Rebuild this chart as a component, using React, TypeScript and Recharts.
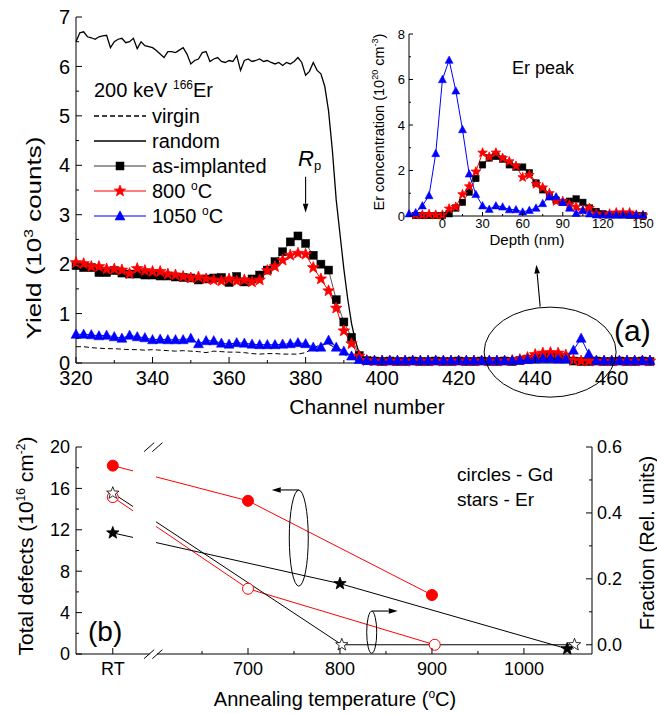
import React from 'react';
import {
  LineChart,
  Line,
  XAxis,
  YAxis,
  ReferenceLine,
  ReferenceDot,
  ReferenceArea,
} from 'recharts';

const FONT = '"Liberation Sans", Arial, Helvetica, sans-serif';

// ---------- panel (a): RBS/C spectra ----------
// random spectrum, one value per channel from 320 to 398
const randomYield = [
  6.5, 6.68, 6.7, 6.6, 6.58, 6.55, 6.6, 6.62, 6.63, 6.38,
  6.5, 6.55, 6.57, 6.48, 6.5, 6.57, 6.36, 6.5, 6.42, 6.4,
  6.38, 6.32, 6.25, 6.18, 6.3, 6.3, 6.28, 6.33, 6.38, 6.25,
  6.05, 6.12, 6.15, 6.28, 6.3, 6.1, 6.15, 6.18, 6.1, 6.08,
  6.12, 6.1, 6.22, 5.92, 6.12, 6.15, 6.1, 6.12, 6.15, 6.1,
  6.12, 6.08, 6.05, 6.08, 6.02, 6.08, 6.05, 6.1, 6.18, 6.08,
  5.82, 5.9, 6.08, 5.92, 5.85, 5.6, 5.1, 4.3, 3.3, 2.6,
  1.9, 1.3, 0.8, 0.45, 0.2, 0.08, 0.05, 0.03, 0.03,
];
const randomTailCh = [410, 430, 450, 470];
const randomTail = [0.03, 0.03, 0.03, 0.03];

// virgin (aligned) spectrum, every second channel from 320 to 396
const virginYield = [
  0.33, 0.33, 0.31, 0.3, 0.29, 0.29, 0.28, 0.27, 0.27, 0.26,
  0.27, 0.26, 0.25, 0.24, 0.25, 0.24, 0.23, 0.21, 0.24, 0.23,
  0.22, 0.22, 0.21, 0.19, 0.18, 0.19, 0.19, 0.18, 0.18, 0.18,
  0.21, 0.3, 0.38, 0.38, 0.3, 0.18, 0.08, 0.04, 0.03,
];
const virginTailCh = [410, 430, 450, 470];
const virginTail = [0.03, 0.03, 0.03, 0.03];

// aligned spectra with markers, every second channel from 320 to 470
const asImplantedYield = [
  1.97, 1.93, 1.93, 1.83, 1.83, 1.87, 1.82, 1.8, 1.8, 1.78,
  1.78, 1.76, 1.76, 1.74, 1.73, 1.72, 1.68, 1.7, 1.72, 1.73,
  1.63, 1.75, 1.64, 1.7, 1.78, 1.88, 2.05, 2.25, 2.45, 2.57,
  2.42, 2.18, 2.0, 1.88, 1.28, 0.83, 0.52, 0.15, 0.05, 0.04,
  0.03, 0.04, 0.03, 0.03, 0.04, 0.03, 0.03, 0.04, 0.03, 0.03,
  0.04, 0.03, 0.03, 0.04, 0.03, 0.03, 0.04, 0.03, 0.05, 0.08,
  0.11, 0.13, 0.13, 0.12, 0.09, 0.04, 0.03, 0.03, 0.04, 0.03,
  0.03, 0.04, 0.03, 0.03, 0.04, 0.03,
];
const anneal800Yield = [
  2.03, 2.01, 1.95, 1.95, 1.9, 1.9, 1.88, 1.81, 1.91, 1.87,
  1.85, 1.85, 1.8, 1.78, 1.75, 1.72, 1.74, 1.7, 1.68, 1.66,
  1.7, 1.66, 1.68, 1.64, 1.68, 1.87, 1.95, 2.08, 2.18, 2.22,
  2.2, 1.93, 1.7, 1.46, 1.11, 0.65, 0.39, 0.14, 0.05, 0.04,
  0.04, 0.04, 0.04, 0.04, 0.04, 0.04, 0.04, 0.04, 0.04, 0.04,
  0.04, 0.04, 0.04, 0.04, 0.04, 0.04, 0.04, 0.05, 0.07, 0.11,
  0.17, 0.2, 0.21, 0.2, 0.16, 0.06, 0.04, 0.04, 0.04, 0.04,
  0.04, 0.04, 0.04, 0.04, 0.04, 0.04,
];
const anneal1050Yield = [
  0.58, 0.58, 0.57, 0.55, 0.56, 0.53, 0.5, 0.56, 0.53, 0.51,
  0.47, 0.48, 0.47, 0.47, 0.47, 0.5, 0.39, 0.45, 0.45, 0.4,
  0.38, 0.41, 0.4, 0.38, 0.37, 0.37, 0.37, 0.38, 0.39, 0.41,
  0.39, 0.32, 0.32, 0.46, 0.32, 0.24, 0.14, 0.07, 0.05, 0.05,
  0.05, 0.05, 0.05, 0.05, 0.05, 0.05, 0.05, 0.05, 0.05, 0.05,
  0.05, 0.05, 0.05, 0.05, 0.05, 0.05, 0.05, 0.05, 0.06, 0.07,
  0.08, 0.09, 0.09, 0.08, 0.08, 0.26, 0.5, 0.18, 0.05, 0.05,
  0.05, 0.05, 0.05, 0.05, 0.05, 0.05,
];

// ---------- inset: Er depth profiles ----------
const erConc1050 = [
  0.1, 0.15, 0.45, 0.9, 2.75, 6.0, 6.85, 5.5, 3.8, 1.85,
  0.95, 0.45, 0.3, 0.45, 0.4, 0.28, 0.28, 0.18, 0.25, 0.35,
  0.55, 0.85, 0.85, 0.6, 0.35, 0.12, 0.25, 0.1, 0.05, 0.05,
  0.05, 0.05, 0.05, 0.05, 0.05, 0.05,
]; // depth -25 .. 150 nm
const erConcAsImpl = [
  0.02, 0.02, 0.02, 0.02, 0.02, 0.1, 0.35, 0.6, 1.05, 1.65,
  2.25, 2.55, 2.62, 2.5, 2.25, 2.15, 2.15, 1.9, 1.45, 1.15,
  0.85, 0.7, 0.6, 0.65, 0.75, 0.6, 0.35, 0.2, 0.1, 0.05,
  0.05, 0.05, 0.03, 0.02, 0.02,
]; // depth -20 .. 150 nm
const erConc800 = [
  0.05, 0.05, 0.08, 0.05, 0.05, 0.32, 0.4, 0.95, 1.3, 1.95,
  2.78, 2.6, 2.78, 2.55, 2.4, 2.2, 1.7, 1.8, 1.4, 1.25,
  1.0, 0.65, 0.65, 0.5, 0.4, 0.25, 0.35, 0.1, 0.05, 0.1,
  0.15, 0.15, 0.15, 0.05, 0.02,
]; // depth -20 .. 150 nm

// ---------- panel (b): defects vs annealing temperature ----------
const RT_POS = 553; // where "RT" sits on the broken temperature axis
const gdTotalT = ['RT', 700, 900];
const gdTotal = [18.2, 14.8, 5.7];
const gdFracT = ['RT', 700, 903];
const gdFrac = [0.448, 0.17, 0.0];
const erTotalT = ['RT', 800, 1047];
const erTotal = [11.7, 6.8, 0.5];
const erFracT = ['RT', 802, 1055];
const erFrac = [0.46, 0.0, 0.0];

// ---------- helpers ----------
const seq = (start: number, step: number, n: number) =>
  Array.from({ length: n }, (_, i) => start + i * step);
const pts = (xs: number[], ys: number[]) => xs.map((x, i) => ({ x, y: ys[i] }));
const tPos = (t: string | number) => (t === 'RT' ? RT_POS : (t as number));
const tPts = (ts: (string | number)[], ys: number[]) => ts.map((t, i) => ({ x: tPos(t), y: ys[i] }));

const markerCh = seq(320, 2, 76);
const randomData = pts([...seq(320, 1, randomYield.length), ...randomTailCh], [...randomYield, ...randomTail]);
const virginData = pts([...seq(320, 2, virginYield.length), ...virginTailCh], [...virginYield, ...virginTail]);
const asImplData = pts(markerCh, asImplantedYield);
const a800Data = pts(markerCh, anneal800Yield);
const a1050Data = pts(markerCh, anneal1050Yield);

const inset1050 = pts(seq(-25, 5, erConc1050.length), erConc1050);
const insetAsImpl = pts(seq(-20, 5, erConcAsImpl.length), erConcAsImpl);
const inset800 = pts(seq(-20, 5, erConc800.length), erConc800);

// ---------- markers ----------
type Kind = 'square' | 'star' | 'triangle' | 'circle';

const starPoints = (cx: number, cy: number, r: number) => {
  const p: string[] = [];
  for (let i = 0; i < 10; i++) {
    const a = -Math.PI / 2 + (i * Math.PI) / 5;
    const rr = i % 2 === 0 ? r : r * 0.42;
    p.push(`${cx + rr * Math.cos(a)},${cy + rr * Math.sin(a)}`);
  }
  return p.join(' ');
};

function Marker({ kind, cx, cy, size, fill, stroke }: any) {
  if (cx == null || cy == null) return null;
  const h = size / 2;
  switch (kind as Kind) {
    case 'square':
      return <rect x={cx - h} y={cy - h} width={size} height={size} fill={fill} stroke={stroke} strokeWidth={0.5} />;
    case 'triangle':
      return (
        <polygon
          points={`${cx},${cy - h * 1.05} ${cx + h},${cy + h * 0.8} ${cx - h},${cy + h * 0.8}`}
          fill={fill}
          stroke={stroke}
          strokeWidth={0.5}
        />
      );
    case 'star':
      return <polygon points={starPoints(cx, cy, h)} fill={fill} stroke={stroke} strokeWidth={0.8} />;
    default:
      return <circle cx={cx} cy={cy} r={h} fill={fill} stroke={stroke} strokeWidth={1} />;
  }
}

const dotOf = (kind: Kind, size: number, fill: string, stroke = fill) => (p: any) => (
  <Marker key={`m-${p.index}`} kind={kind} cx={p.cx} cy={p.cy} size={size} fill={fill} stroke={stroke} />
);

// ---------- ticks drawn inward with major/minor lengths ----------
type Side = 'left' | 'right' | 'top' | 'bottom';
interface TickOpts {
  majors: number[];
  major: number;
  minor: number;
  fontSize: number;
  gap: number;
  labels?: boolean;
  fmt?: (v: number) => string;
}

const makeTick = (side: Side, o: TickOpts) => (p: any) => {
  const v = p.payload.value as number;
  const isMajor = o.majors.some((m) => Math.abs(m - v) < 1e-6);
  const len = isMajor ? o.major : o.minor;
  const { x, y } = p;
  const label = isMajor && o.labels !== false ? (o.fmt ? o.fmt(v) : String(v)) : null;
  const cap = o.fontSize * 0.716;
  let line: React.ReactNode = null;
  let text: React.ReactNode = null;
  const tp = { fontSize: o.fontSize, fill: '#000', fontFamily: FONT };
  if (side === 'left') {
    line = <line x1={x} y1={y} x2={x + len} y2={y} />;
    if (label) text = <text {...tp} x={x - o.gap} y={y + cap / 2} textAnchor="end">{label}</text>;
  } else if (side === 'right') {
    line = <line x1={x} y1={y} x2={x - len} y2={y} />;
    if (label) text = <text {...tp} x={x + o.gap} y={y + cap / 2} textAnchor="start">{label}</text>;
  } else if (side === 'bottom') {
    line = <line x1={x} y1={y} x2={x} y2={y - len} />;
    if (label) text = <text {...tp} x={x} y={y + o.gap + cap} textAnchor="middle">{label}</text>;
  } else {
    line = <line x1={x} y1={y} x2={x} y2={y + len} />;
  }
  return (
    <g>
      <g stroke="#000" strokeWidth={1}>{line}</g>
      {text}
    </g>
  );
};

const axisLine = { stroke: '#000', strokeWidth: 1 };

const arrowShape = (p: any) => {
  const { x1, y1, x2, y2 } = p;
  const ang = Math.atan2(y2 - y1, x2 - x1);
  const L = 9;
  const W = 2.8;
  const bx = x2 - L * Math.cos(ang);
  const by = y2 - L * Math.sin(ang);
  const nx = -Math.sin(ang) * W;
  const ny = Math.cos(ang) * W;
  return (
    <g>
      <line x1={x1} y1={y1} x2={bx} y2={by} stroke="#000" strokeWidth={1.1} />
      <polygon points={`${x2},${y2} ${bx + nx},${by + ny} ${bx - nx},${by - ny}`} fill="#000" />
    </g>
  );
};

const ellipseShape = (rx: number, ry: number) => (p: any) => (
  <ellipse cx={p.cx} cy={p.cy} rx={rx} ry={ry} fill="none" stroke="#000" strokeWidth={1} />
);

// ---------- panel (a) ----------
const chMajors = seq(320, 20, 8);
const chTicks = [...chMajors, ...seq(330, 20, 8)].sort((a, b) => a - b);
const yMajors = seq(0, 1, 8);
const yTicks = [...yMajors, ...seq(0.5, 1, 7)].sort((a, b) => a - b);

function SpectraChart() {
  const t = { major: 6, minor: 3, fontSize: 20, gap: 6 };
  return (
    <LineChart width={657} height={420} margin={{ top: 17, right: 7, bottom: 0, left: 0 }}>
      <XAxis
        dataKey="x"
        type="number"
        domain={[320, 470]}
        ticks={chTicks}
        interval={0}
        height={57}
        tickLine={false}
        tickSize={0}
        tickMargin={0}
        axisLine={axisLine}
        tick={makeTick('bottom', { ...t, majors: chMajors, gap: 8 })}
      />
      <XAxis
        xAxisId="top"
        orientation="top"
        dataKey="x"
        type="number"
        domain={[320, 470]}
        ticks={chTicks}
        interval={0}
        height={0}
        tickLine={false}
        tickSize={0}
        tickMargin={0}
        axisLine={axisLine}
        tick={makeTick('top', { ...t, majors: chMajors, labels: false })}
      />
      <YAxis
        type="number"
        domain={[0, 7]}
        ticks={yTicks}
        interval={0}
        width={76}
        tickLine={false}
        tickSize={0}
        tickMargin={0}
        axisLine={axisLine}
        tick={makeTick('left', { ...t, majors: yMajors })}
      />
      <YAxis
        yAxisId="mirror"
        orientation="right"
        type="number"
        domain={[0, 7]}
        ticks={yTicks}
        interval={0}
        width={0}
        tickLine={false}
        tickSize={0}
        tickMargin={0}
        axisLine={axisLine}
        tick={makeTick('right', { ...t, majors: yMajors, labels: false })}
      />
      <Line data={randomData} dataKey="y" stroke="#000" strokeWidth={1.3} dot={false} activeDot={false} isAnimationActive={false} />
      <Line data={virginData} dataKey="y" stroke="#000" strokeWidth={1} strokeDasharray="5 3" dot={false} activeDot={false} isAnimationActive={false} />
      <Line data={asImplData} dataKey="y" stroke="#555" strokeWidth={1} dot={dotOf('square', 8, '#000')} activeDot={false} isAnimationActive={false} />
      <Line data={a800Data} dataKey="y" stroke="#ff0000" strokeWidth={1} dot={dotOf('star', 12, '#ff0000')} activeDot={false} isAnimationActive={false} />
      <Line data={a1050Data} dataKey="y" stroke="#0000ff" strokeWidth={1} dot={dotOf('triangle', 10, '#0000ff')} activeDot={false} isAnimationActive={false} />
      {/* projected range marker */}
      <ReferenceLine segment={[{ x: 380, y: 3.77 }, { x: 380, y: 3.04 }]} ifOverflow="visible" shape={arrowShape} />
      {/* Er surface peak callout */}
      <ReferenceDot x={443.9} y={0.22} r={1} ifOverflow="visible" shape={ellipseShape(66, 45)} />
      <ReferenceLine segment={[{ x: 441.3, y: 1.14 }, { x: 440.3, y: 1.99 }]} ifOverflow="visible" shape={arrowShape} />
    </LineChart>
  );
}

// ---------- inset ----------
const dMajors = seq(0, 30, 6);
const dTicks = [...dMajors, ...seq(-15, 30, 6)].sort((a, b) => a - b);
const cMajors = seq(0, 2, 5);
const cTicks = [...cMajors, 1, 3, 5, 7].sort((a, b) => a - b);

function InsetChart() {
  const t = { major: 4, minor: 2, fontSize: 13, gap: 4 };
  return (
    <LineChart width={317} height={240} margin={{ top: 14, right: 14, bottom: 0, left: 0 }}>
      <XAxis
        dataKey="x"
        type="number"
        domain={[-25, 150]}
        ticks={dTicks}
        interval={0}
        height={44}
        tickLine={false}
        tickSize={0}
        tickMargin={0}
        axisLine={axisLine}
        tick={makeTick('bottom', { ...t, majors: dMajors, gap: 3 })}
      />
      <XAxis xAxisId="top" orientation="top" dataKey="x" type="number" domain={[-25, 150]} height={0} tick={false} tickLine={false} axisLine={axisLine} />
      <YAxis
        type="number"
        domain={[0, 8]}
        ticks={cTicks}
        interval={0}
        width={69}
        tickLine={false}
        tickSize={0}
        tickMargin={0}
        axisLine={axisLine}
        tick={makeTick('left', { ...t, majors: cMajors })}
      />
      <YAxis yAxisId="mirror" orientation="right" type="number" domain={[0, 8]} width={0} tick={false} tickLine={false} axisLine={axisLine} />
      <Line data={insetAsImpl} dataKey="y" stroke="#555" strokeWidth={1} dot={dotOf('square', 6.5, '#000')} activeDot={false} isAnimationActive={false} />
      <Line data={inset800} dataKey="y" stroke="#ff0000" strokeWidth={1} dot={dotOf('star', 10, '#ff0000')} activeDot={false} isAnimationActive={false} />
      <Line data={inset1050} dataKey="y" stroke="#0000ff" strokeWidth={1} dot={dotOf('triangle', 8, '#0000ff')} activeDot={false} isAnimationActive={false} />
    </LineChart>
  );
}

// ---------- panel (b) ----------
const tMajors = [RT_POS, 700, 800, 900, 1000];
const tTicks = [RT_POS, 650, 700, 750, 800, 850, 900, 950, 1000, 1050];
const dfMajors = seq(0, 4, 6);
const dfTicks = [...dfMajors, ...seq(2, 4, 5)].sort((a, b) => a - b);
const frMajors = [0, 0.2, 0.4, 0.6];
const frTicks = [0, 0.1, 0.2, 0.3, 0.4, 0.5, 0.6];

function DefectsChart() {
  const t = { major: 6, minor: 3, fontSize: 18, gap: 6 };
  return (
    <LineChart width={657} height={294} margin={{ top: 27, right: 0, bottom: 0, left: 0 }}>
      <XAxis
        dataKey="x"
        type="number"
        domain={[513, 1074]}
        ticks={tTicks}
        interval={0}
        height={60}
        tickLine={false}
        tickSize={0}
        tickMargin={0}
        axisLine={axisLine}
        tick={makeTick('bottom', { ...t, majors: tMajors, gap: 8, fmt: (v) => (v === RT_POS ? 'RT' : String(v)) })}
      />
      <XAxis
        xAxisId="top"
        orientation="top"
        dataKey="x"
        type="number"
        domain={[513, 1074]}
        ticks={tTicks}
        interval={0}
        height={0}
        tickLine={false}
        tickSize={0}
        tickMargin={0}
        axisLine={axisLine}
        tick={makeTick('top', { ...t, majors: tMajors, labels: false })}
      />
      <YAxis
        type="number"
        domain={[0, 20]}
        ticks={dfTicks}
        interval={0}
        width={76}
        tickLine={false}
        tickSize={0}
        tickMargin={0}
        axisLine={axisLine}
        tick={makeTick('left', { ...t, majors: dfMajors })}
      />
      <YAxis
        yAxisId="frac"
        orientation="right"
        type="number"
        domain={[-0.028, 0.6]}
        ticks={frTicks}
        interval={0}
        width={65}
        tickLine={false}
        tickSize={0}
        tickMargin={0}
        axisLine={axisLine}
        tick={makeTick('right', { ...t, majors: frMajors, gap: 5, fmt: (v) => v.toFixed(1) })}
      />
      <Line data={tPts(gdFracT, gdFrac)} yAxisId="frac" dataKey="y" stroke="#ff0000" strokeWidth={1} dot={dotOf('circle', 11, '#fff', '#ff0000')} activeDot={false} isAnimationActive={false} />
      <Line data={tPts(erFracT, erFrac)} yAxisId="frac" dataKey="y" stroke="#000" strokeWidth={1} dot={dotOf('star', 13, '#fff', '#000')} activeDot={false} isAnimationActive={false} />
      <Line data={tPts(gdTotalT, gdTotal)} dataKey="y" stroke="#ff0000" strokeWidth={1} dot={dotOf('circle', 11, '#ff0000')} activeDot={false} isAnimationActive={false} />
      <Line data={tPts(erTotalT, erTotal)} dataKey="y" stroke="#000" strokeWidth={1} dot={dotOf('star', 13, '#000')} activeDot={false} isAnimationActive={false} />
      {/* gap where the lines cross the axis break */}
      <ReferenceArea x1={575} x2={600} y1={0.25} y2={19.75} fill="#fff" fillOpacity={1} stroke="none" ifOverflow="visible" zIndex={450} />
      <ReferenceArea x1={593} x2={601} y1={-0.4} y2={0.4} fill="#fff" fillOpacity={1} stroke="none" ifOverflow="visible" zIndex={550} />
      <ReferenceArea x1={593} x2={601} y1={19.6} y2={20.4} fill="#fff" fillOpacity={1} stroke="none" ifOverflow="visible" zIndex={550} />
      <ReferenceLine segment={[{ x: 587, y: -0.45 }, { x: 598, y: 0.42 }]} stroke="#000" ifOverflow="visible" zIndex={600} />
      <ReferenceLine segment={[{ x: 596, y: -0.45 }, { x: 607, y: 0.42 }]} stroke="#000" ifOverflow="visible" zIndex={600} />
      <ReferenceLine segment={[{ x: 587, y: 19.55 }, { x: 598, y: 20.42 }]} stroke="#000" ifOverflow="visible" zIndex={600} />
      <ReferenceLine segment={[{ x: 596, y: 19.55 }, { x: 607, y: 20.42 }]} stroke="#000" ifOverflow="visible" zIndex={600} />
      {/* axis callouts */}
      <ReferenceDot x={755.2} y={11.2} r={1} ifOverflow="visible" shape={ellipseShape(9.5, 48)} />
      <ReferenceLine segment={[{ x: 755.2, y: 15.85 }, { x: 725.8, y: 15.85 }]} ifOverflow="visible" shape={arrowShape} />
      <ReferenceDot x={834.5} y={2.1} r={1} ifOverflow="visible" shape={ellipseShape(5, 21)} />
      <ReferenceLine segment={[{ x: 834.5, y: 4.15 }, { x: 862.8, y: 4.15 }]} ifOverflow="visible" shape={arrowShape} />
    </LineChart>
  );
}

// ---------- titles, legend and panel labels ----------
const legendRows = [
  { label: 'virgin', stroke: '#000', dash: '5 3', kind: null, color: '#000' },
  { label: 'random', stroke: '#000', dash: undefined, kind: null, color: '#000' },
  { label: 'as-implanted', stroke: '#777', dash: undefined, kind: 'square', color: '#000' },
  { label: '800', stroke: '#ff5050', dash: undefined, kind: 'star', color: '#ff0000', deg: true },
  { label: '1050', stroke: '#5050ff', dash: undefined, kind: 'triangle', color: '#0000ff', deg: true },
];
const markerSize: Record<string, number> = { square: 8, star: 12, triangle: 10 };

function Annotations() {
  return (
    <svg
      width={657}
      height={714}
      style={{ position: 'absolute', left: 0, top: 0, pointerEvents: 'none', fontFamily: FONT }}
    >
      {/* panel (a) */}
      <text transform="translate(41,238) rotate(-90) scale(1.3,1)" textAnchor="middle" fontSize={20}>
        Yield (10<tspan dy={-8} fontSize={12}>3</tspan>
        <tspan dy={8}> counts)</tspan>
      </text>
      <text x={367} y={414} textAnchor="middle" fontSize={21}>Channel number</text>
      <text x={94} y={97} fontSize={20}>
        200 keV <tspan dy={-8} fontSize={12}>166</tspan>
        <tspan dy={8}>Er</tspan>
      </text>
      {legendRows.map((r, i) => {
        const y = 116 + i * 25;
        return (
          <g key={r.label}>
            <line x1={94} y1={y} x2={146} y2={y} stroke={r.stroke} strokeWidth={1.3} strokeDasharray={r.dash} />
            {r.kind && <Marker kind={r.kind} cx={120} cy={y} size={markerSize[r.kind]} fill={r.color} stroke={r.color} />}
            <text x={152} y={y + 7} fontSize={20}>
              {r.deg ? (
                <>
                  {r.label} <tspan dy={-8} fontSize={12}>o</tspan>
                  <tspan dy={8}>C</tspan>
                </>
              ) : (
                r.label
              )}
            </text>
          </g>
        );
      })}
      <text x={298} y={166} fontSize={22} fontStyle="italic">R</text>
      <text x={314} y={170} fontSize={13}>p</text>
      <text x={614} y={341} fontSize={30}>(a)</text>

      {/* inset */}
      <text x={512} y={74} fontSize={18}>Er peak</text>
      <text transform="translate(384,122) rotate(-90)" textAnchor="middle" fontSize={14.5}>
        Er concentration (10<tspan dy={-6} fontSize={9}>20</tspan>
        <tspan dy={6}> cm</tspan>
        <tspan dy={-6} fontSize={9}>-3</tspan>
        <tspan dy={6}>)</tspan>
      </text>
      <text x={527} y={245} textAnchor="middle" fontSize={15}>Depth (nm)</text>

      {/* panel (b) */}
      <text transform="translate(33,546) rotate(-90)" textAnchor="middle" fontSize={21}>
        Total defects (10<tspan dy={-8} fontSize={12}>16</tspan>
        <tspan dy={8}> cm</tspan>
        <tspan dy={-8} fontSize={12}>-2</tspan>
        <tspan dy={8}>)</tspan>
      </text>
      <text transform="translate(654,543) rotate(-90)" textAnchor="middle" fontSize={20}>
        Fraction (Rel. units)
      </text>
      <text x={335} y={706} textAnchor="middle" fontSize={20}>
        Annealing temperature (<tspan dy={-8} fontSize={12}>o</tspan>
        <tspan dy={8}>C)</tspan>
      </text>
      <text x={457} y={481} fontSize={19}>circles - Gd</text>
      <text x={457} y={506} fontSize={19}>stars - Er</text>
      <text x={88} y={641} fontSize={28}>(b)</text>
    </svg>
  );
}

export default function App() {
  return (
    <div style={{ position: 'absolute', left: 0, top: 0, width: 657, height: 714, background: '#fff', fontFamily: FONT }}>
      <div style={{ position: 'absolute', left: 0, top: 0 }}>
        <SpectraChart />
      </div>
      <div style={{ position: 'absolute', left: 340, top: 20 }}>
        <InsetChart />
      </div>
      <div style={{ position: 'absolute', left: 0, top: 420 }}>
        <DefectsChart />
      </div>
      <Annotations />
    </div>
  );
}
